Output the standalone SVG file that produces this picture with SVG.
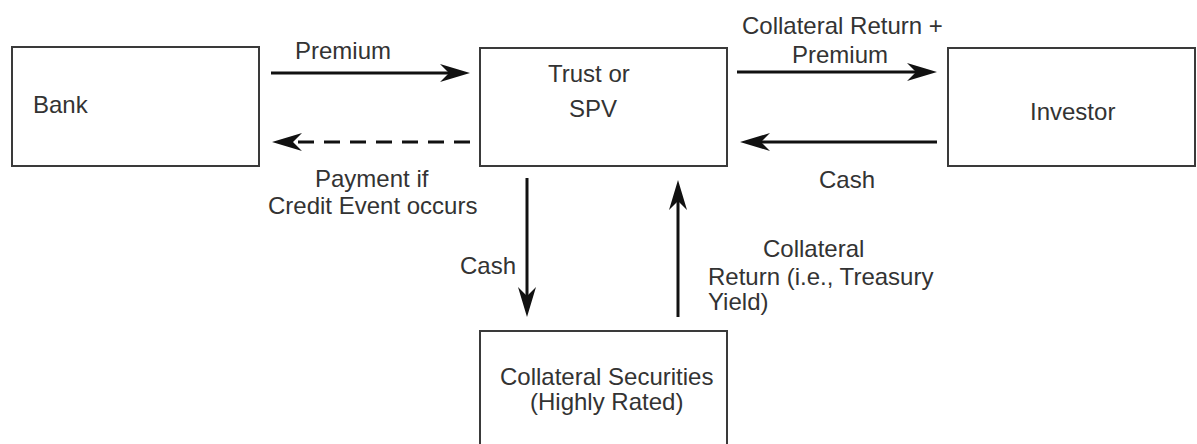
<svg xmlns="http://www.w3.org/2000/svg" width="1197" height="444" viewBox="0 0 1197 444">
<style>
.box{fill:#fff;stroke:#3a3a3a;stroke-width:2}
.t{font-family:"Liberation Sans",Arial,sans-serif;font-size:24px;fill:#333}
.c{stroke:#111;stroke-width:3;fill:none;marker-end:url(#ah)}
.d{stroke-dasharray:16 10}
</style>
<defs>
<marker id="ah" markerUnits="userSpaceOnUse" viewBox="0 0 30 18" refX="20" refY="9" markerWidth="30" markerHeight="18" orient="auto">
<path d="M0,0 L30,9 L0,18 L9,9 Z" fill="#111"/>
</marker>
</defs>
<rect width="1197" height="444" fill="#fff"/>
<g id="bank">
<rect class="box" x="12" y="47" width="247" height="119"/>
<text class="t" x="33" y="113">Bank</text>
</g>
<g id="trust">
<rect class="box" x="480" y="48" width="247" height="118"/>
<text class="t" x="548" y="82">Trust or</text>
<text class="t" x="569" y="117">SPV</text>
</g>
<g id="investor">
<rect class="box" x="948" y="48" width="247" height="118"/>
<text class="t" x="1030" y="120">Investor</text>
</g>
<g id="collateral">
<rect class="box" x="480" y="331" width="247" height="130"/>
<text class="t" x="500" y="385">Collateral Securities</text>
<text class="t" x="530" y="410">(Highly Rated)</text>
</g>
<g id="connectors">
<line class="c" x1="271" y1="73" x2="460" y2="73"/>
<line class="c d" x1="470" y1="142" x2="282" y2="142"/>
<line class="c" x1="737" y1="72" x2="927" y2="72"/>
<line class="c" x1="937" y1="142" x2="750" y2="142"/>
<line class="c" x1="527" y1="178" x2="527" y2="307"/>
<line class="c" x1="678" y1="317" x2="678" y2="190"/>
</g>
<g id="labels">
<text class="t" x="295" y="59">Premium</text>
<text class="t" x="315" y="187">Payment if</text>
<text class="t" x="268" y="214">Credit Event occurs</text>
<text class="t" x="742" y="34">Collateral Return +</text>
<text class="t" x="792" y="63">Premium</text>
<text class="t" x="819" y="188">Cash</text>
<text class="t" x="460" y="274">Cash</text>
<text class="t" x="763" y="257">Collateral</text>
<text class="t" x="708" y="285">Return (i.e., Treasury</text>
<text class="t" x="708" y="310">Yield)</text>
</g>
</svg>
